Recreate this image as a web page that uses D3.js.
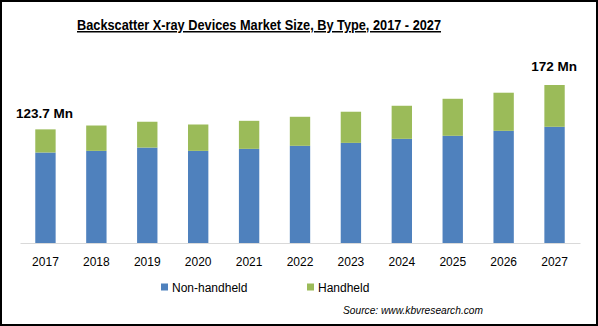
<!DOCTYPE html>
<html>
<head>
<meta charset="utf-8">
<script src="https://d3js.org/d3.v7.min.js"></script>
<style>
  body { margin: 0; background: #fff; }
  text { font-family: "Liberation Sans", Arial, sans-serif; fill: #000; }
</style>
</head>
<body>
<script>
var years = ["2017","2018","2019","2020","2021","2022","2023","2024","2025","2026","2027"];
var nonHandheld = [98.5, 100.3, 103.9, 100.3, 102.5, 105.8, 109.0, 113.4, 116.7, 122.1, 126.5];
var handheld = [25.2, 27.6, 28.1, 28.7, 30.5, 31.6, 33.9, 36.0, 40.3, 41.5, 45.5];
var seriesNames = ["Non-handheld", "Handheld"];
var colors = ["#4f81bd", "#9bbb59"];
var endLabels = ["123.7 Mn", "172 Mn"];

var width = 598, height = 326;

var svg = d3.select("body").append("svg")
    .attr("width", width)
    .attr("height", height);

svg.append("rect")
    .attr("x", 1).attr("y", 1)
    .attr("width", width - 2).attr("height", height - 2)
    .attr("fill", "#fff")
    .attr("stroke", "#000")
    .attr("stroke-width", 2);

// title, squeezed to the narrow width of the original face
svg.append("text")
    .attr("x", 77).attr("y", 30)
    .attr("textLength", 364)
    .attr("lengthAdjust", "spacingAndGlyphs")
    .style("font-size", "15px")
    .style("font-weight", "bold")
    .style("text-decoration", "underline")
    .text("Backscatter X-ray Devices Market Size, By Type, 2017 - 2027");

var rows = years.map(function(y, i) {
  return { year: y, "Non-handheld": nonHandheld[i], "Handheld": handheld[i] };
});

var x = d3.scaleBand().domain(years).range([20, 580]).paddingInner(0.6).paddingOuter(0.3);
var y = d3.scaleLinear().domain([0, 172]).range([243, 85]);

var stack = d3.stack().keys(seriesNames)(rows);

svg.selectAll("g.series")
  .data(stack)
  .enter().append("g")
    .attr("class", "series")
    .attr("fill", function(d, i) { return colors[i]; })
  .selectAll("rect")
  .data(function(d) { return d; })
  .enter().append("rect")
    .attr("x", function(d) { return x(d.data.year); })
    .attr("width", x.bandwidth())
    .attr("y", function(d) { return y(d[1]); })
    .attr("height", function(d) { return y(d[0]) - y(d[1]); });

var axis = svg.append("g")
    .attr("transform", "translate(0,243)")
    .call(d3.axisBottom(x).tickSize(0).tickPadding(14));
axis.select(".domain").attr("stroke", "#d9d9d9").attr("stroke-width", 1);
axis.selectAll("text")
    .style("font-size", "12px")
    .style("font-family", "'Liberation Sans', Arial, sans-serif");

// end labels
svg.append("text")
    .attr("x", 16).attr("y", 118)
    .style("font-size", "13.5px").style("font-weight", "bold")
    .text(endLabels[0]);
svg.append("text")
    .attr("x", 577).attr("y", 71)
    .attr("text-anchor", "end")
    .style("font-size", "13.5px").style("font-weight", "bold")
    .text(endLabels[1]);

// legend
var legendX = [161, 307];
var legend = svg.selectAll("g.legend")
  .data(seriesNames)
  .enter().append("g")
    .attr("class", "legend")
    .attr("transform", function(d, i) { return "translate(" + legendX[i] + ",287)"; });
legend.append("rect")
    .attr("x", 0).attr("y", -3.5)
    .attr("width", 7).attr("height", 7)
    .attr("fill", function(d, i) { return colors[i]; });
legend.append("text")
    .attr("x", 11).attr("y", 4.5)
    .style("font-size", "12px")
    .text(function(d) { return d; });

svg.append("text")
    .attr("x", 343).attr("y", 314)
    .attr("textLength", 140)
    .attr("lengthAdjust", "spacingAndGlyphs")
    .style("font-size", "11.5px")
    .style("font-style", "italic")
    .text("Source:  www.kbvresearch.com");
</script>
</body>
</html>
